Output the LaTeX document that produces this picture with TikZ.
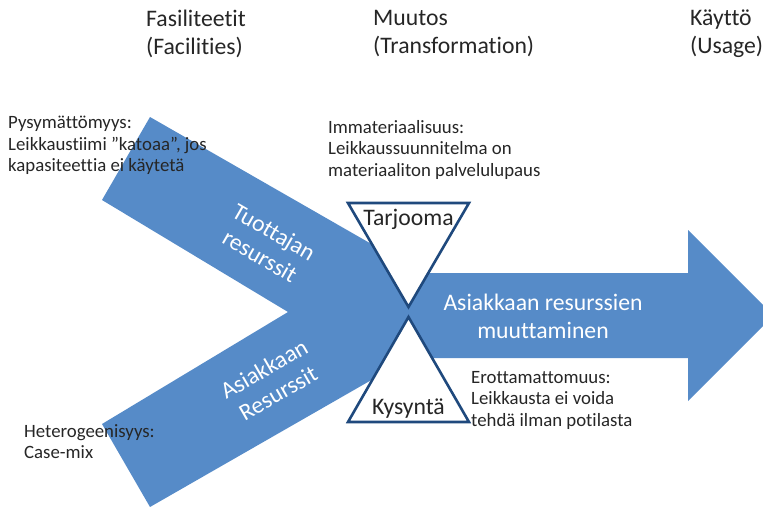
\documentclass[tikz,border=0pt]{standalone}
\usepackage{fontspec}
\setmainfont{Carlito}[Ligatures={NoCommon,NoContextual}]
\definecolor{flowblue}{RGB}{86,139,200}
\definecolor{edgeblue}{RGB}{31,73,125}
\definecolor{notegray}{RGB}{38,38,38}
\begin{document}
\begin{tikzpicture}[x=1pt,y=-1pt,
  heading/.style={anchor=north west,inner sep=0pt,align=left,text=notegray,
    font=\fontsize{23.7}{28}\selectfont},
  note/.style={anchor=north west,inner sep=0pt,align=left,text=notegray,
    font=\fontsize{18.8}{21.5}\selectfont},
  flowtext/.style={inner sep=0pt,align=center,text=white,
    font=\fontsize{23.7}{28}\selectfont},
  gatetext/.style={inner sep=0pt,text=notegray,font=\fontsize{23.7}{28}\selectfont},
  gate/.style={fill=white,draw=edgeblue,line width=2.6pt,line join=miter}]
\useasboundingbox (0,0) rectangle (763,506);
\clip (0,0) rectangle (763,506);

% incoming resources: chevron
\fill[flowblue] (150,117) -- (490,312) -- (150,507) -- (102,424)
  -- (288,312) -- (102,200) -- cycle;
% outgoing block arrow
\fill[flowblue] (400,273) -- (688,273) -- (688,230) -- (773.5,315.5)
  -- (688,401) -- (688,358) -- (400,358) -- cycle;

% hourglass
\draw[gate] (348,203) -- (469,203) -- (408.5,307) -- cycle;
\draw[gate] (408.5,317) -- (469,422) -- (348,422) -- cycle;
\node[gatetext] (offer) at (408.5,219.5) {Tarjooma};
\node[gatetext] (demand) at (408.5,408.5) {Kysyntä};

% column headings
\node[heading] (fac) at (146,10) {Fasiliteetit\\(Facilities)};
\node[heading] (trans) at (373,10) {Muutos\\(Transformation)};
\node[heading] (usage) at (690,10) {Käyttö\\(Usage)};

% notes
\node[note] (perish) at (8,116) {Pysymättömyys:\\Leikkaustiimi ”katoaa”, jos\\kapasiteettia ei käytetä};
\node[note] (intang) at (328,120) {Immateriaalisuus:\\Leikkaussuunnitelma on\\materiaaliton palvelulupaus};
\node[note] (insep) at (471,371) {Erottamattomuus:\\Leikkausta ei voida\\tehdä ilman potilasta};
\node[note] (hetero) at (24,424) {Heterogeenisyys:\\Case-mix};

% labels on the arrows
\node[flowtext,rotate=-30] (prod) at (267,244) {Tuottajan\\resurssit};
\node[flowtext,rotate=30] (cust) at (271,381) {Asiakkaan\\Resurssit};
\node[flowtext] (change) at (543,316) {Asiakkaan resurssien\\muuttaminen};
\end{tikzpicture}
\end{document}
